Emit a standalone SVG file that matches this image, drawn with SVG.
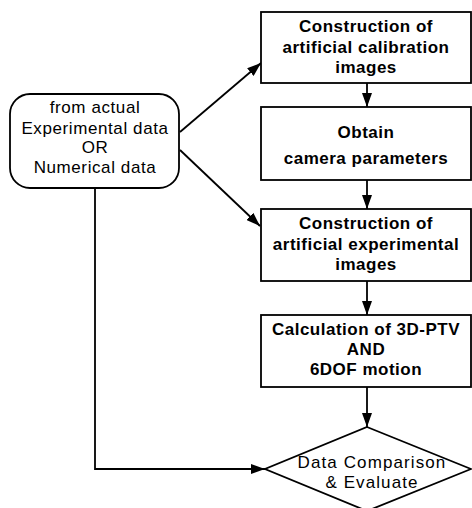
<svg xmlns="http://www.w3.org/2000/svg" width="472" height="508" viewBox="0 0 472 508">
<style>
.box{fill:#fff;stroke:#000;stroke-width:1.8}
.b{font-family:"Liberation Sans",Arial,sans-serif;font-size:17px;font-weight:bold;letter-spacing:0.5px;text-anchor:middle;fill:#000}
.r{font-family:"Liberation Sans",Arial,sans-serif;font-size:17px;letter-spacing:0.6px;text-anchor:middle;fill:#000}
.d{letter-spacing:1.1px}
.c{fill:none;stroke:#000;stroke-width:1.8}
</style>
<defs>
<marker id="ah" markerWidth="14" markerHeight="10" refX="14" refY="5" orient="auto" markerUnits="userSpaceOnUse">
<path d="M0,0 L14,5 L0,10 Z" fill="#000"/>
</marker>
</defs>
<rect width="472" height="508" fill="#fff"/>
<g id="connectors">
<path class="c" d="M180,132 L261,63" marker-end="url(#ah)"/>
<path class="c" d="M180,150 L260,226" marker-end="url(#ah)"/>
<path class="c" d="M367,83 L367,107" marker-end="url(#ah)"/>
<path class="c" d="M367,180 L367,209" marker-end="url(#ah)"/>
<path class="c" d="M367,281 L367,315" marker-end="url(#ah)"/>
<path class="c" d="M367,387 L367,427" marker-end="url(#ah)"/>
<path class="c" d="M95,188 L95,469 L265,469" marker-end="url(#ah)"/>
</g>
<g id="source">
<rect class="box" x="10" y="94" width="169" height="94" rx="20" ry="20"/>
<text class="r" x="95" y="113">from actual</text>
<text class="r" x="95" y="134">Experimental data</text>
<text class="r" x="95" y="153">OR</text>
<text class="r" x="95" y="173">Numerical data</text>
</g>
<g id="calib">
<rect class="box" x="261" y="12" width="210" height="71"/>
<text class="b" x="366" y="32">Construction of</text>
<text class="b" x="366" y="53">artificial calibration</text>
<text class="b" x="366" y="73">images</text>
</g>
<g id="camera">
<rect class="box" x="261" y="107" width="210" height="73"/>
<text class="b" x="366" y="138">Obtain</text>
<text class="b" x="366" y="164">camera parameters</text>
</g>
<g id="experimental">
<rect class="box" x="261" y="209" width="210" height="72"/>
<text class="b" x="366" y="229">Construction of</text>
<text class="b" x="366" y="250">artificial experimental</text>
<text class="b" x="366" y="270">images</text>
</g>
<g id="calculation">
<rect class="box" x="261" y="315" width="210" height="72"/>
<text class="b" x="366" y="335">Calculation of 3D-PTV</text>
<text class="b" x="366" y="355">AND</text>
<text class="b" x="366" y="375">6DOF motion</text>
</g>
<g id="compare">
<polygon class="box" points="367,427 471,469 367,511 265,469"/>
<text class="r d" x="372" y="468">Data Comparison</text>
<text class="r d" x="372" y="488">&amp; Evaluate</text>
</g>
</svg>
